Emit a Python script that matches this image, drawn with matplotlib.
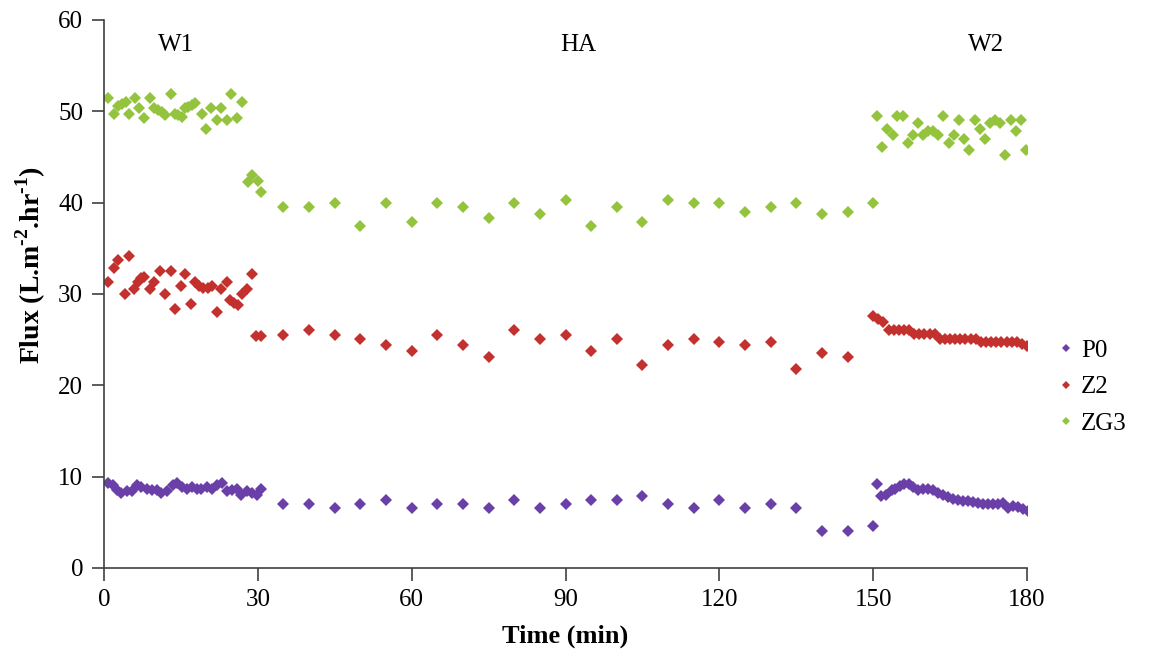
import matplotlib
matplotlib.use("Agg")
import matplotlib.pyplot as plt

plt.rcParams['font.family'] = ['Liberation Serif', 'DejaVu Serif']
plt.rcParams['mathtext.fontset'] = 'custom'
plt.rcParams['mathtext.rm'] = 'Liberation Serif'
plt.rcParams['mathtext.bf'] = 'Liberation Serif:bold'

# ---- data ----
ha_t = [35, 40, 45, 50, 55, 60, 65, 70, 75, 80, 85, 90, 95, 100, 105, 110,
        115, 120, 125, 130, 135, 140, 145, 150]

# P0
p0_w1_t = [0.85, 1.8, 2.5, 3.4, 4.4, 5.4, 6.4, 7.3, 8.3, 9.3, 10.3, 11.2, 12.2, 13.5,
           14.2, 15.2, 16.1, 17.1, 18.1, 19.0, 20.0, 21.0, 22.0, 23.0, 23.9, 24.9,
           25.9, 26.8, 27.8, 28.8, 29.8, 30.7]
p0_w1 = [9.3, 9.1, 8.5, 8.2, 8.4, 8.4, 9.1, 8.9, 8.7, 8.5, 8.5, 8.2, 8.4, 9.1,
         9.3, 8.9, 8.7, 8.9, 8.7, 8.7, 8.9, 8.7, 9.1, 9.3, 8.4, 8.5, 8.7, 8.0,
         8.4, 8.2, 8.0, 8.7]
p0_ha = [7.0, 7.0, 6.6, 7.0, 7.4, 6.6, 7.0, 7.0, 6.6, 7.4, 6.6, 7.0, 7.4, 7.4,
         7.9, 7.0, 6.6, 7.4, 6.6, 7.0, 6.6, 4.1, 4.1, 4.6]
p0_w2_t = [150.7, 151.6, 152.5, 153.6, 154.2, 155.2, 156.0, 157.0, 157.8, 158.8,
           159.8, 160.7, 161.7, 162.7, 163.7, 164.6, 165.6, 166.6, 167.6, 168.5,
           169.5, 170.5, 171.5, 172.4, 173.4, 174.4, 175.4, 176.3, 177.3, 178.3,
           179.3, 180.1]
p0_w2 = [9.2, 7.9, 8.0, 8.5, 8.7, 9.0, 9.2, 9.2, 8.9, 8.5, 8.6, 8.6, 8.5, 8.2,
         8.0, 7.8, 7.6, 7.4, 7.3, 7.3, 7.2, 7.1, 7.0, 7.0, 7.0, 7.0, 7.1, 6.6,
         6.8, 6.7, 6.5, 6.2]

# Z2
z2_w1_t = [0.85, 1.95, 2.8, 4.0, 4.9, 5.9, 6.7, 7.3, 7.85, 9.0, 9.8, 10.9, 11.8,
           13.0, 13.85, 15.0, 15.8, 17.0, 17.7, 18.5, 19.3, 20.2, 21.0, 22.0, 22.8,
           24.0, 24.6, 25.4, 26.1, 26.85, 27.8, 28.8, 29.7, 30.6]
z2_w1 = [31.3, 32.8, 33.7, 30.0, 34.2, 30.5, 31.3, 31.7, 31.9, 30.5, 31.3, 32.5,
         30.0, 32.5, 28.4, 30.9, 32.2, 28.9, 31.3, 30.9, 30.6, 30.6, 30.9, 28.0,
         30.5, 31.3, 29.3, 29.0, 28.8, 30.0, 30.5, 32.2, 25.4, 25.4]
z2_ha = [25.5, 26.0, 25.5, 25.1, 24.4, 23.8, 25.5, 24.4, 23.1, 26.0, 25.1, 25.5,
         23.8, 25.1, 22.2, 24.4, 25.1, 24.7, 24.4, 24.7, 21.8, 23.5, 23.1, 27.6]
z2_w2_t = [151, 152, 153, 154, 155, 156, 157, 158, 159, 160, 161, 162, 163, 164,
           165, 166, 167, 168, 169, 170, 171, 172, 173, 174, 175, 176, 177, 178,
           179, 180]
z2_w2 = [27.3, 26.9, 26.0, 26.0, 26.0, 26.0, 26.0, 25.6, 25.6, 25.6, 25.6, 25.6,
         25.1, 25.1, 25.1, 25.1, 25.1, 25.1, 25.1, 25.1, 24.7, 24.7, 24.7, 24.7,
         24.7, 24.7, 24.7, 24.7, 24.5, 24.3]

# ZG3
zg3_w1_t = [0.85, 1.95, 2.8, 3.45, 4.2, 4.95, 6.05, 6.9, 7.85, 8.95, 9.8, 10.6,
            11.25, 11.9, 13.0, 13.85, 14.5, 15.15, 15.8, 16.45, 17.1, 17.75, 19.05,
            19.9, 20.9, 22.0, 22.8, 24.0, 24.8, 25.9, 26.85, 28.0, 28.8, 30.0, 30.7]
zg3_w1 = [51.5, 49.7, 50.6, 50.8, 51.0, 49.7, 51.5, 50.3, 49.3, 51.5, 50.3, 50.1,
          49.9, 49.6, 51.9, 49.7, 49.6, 49.4, 50.3, 50.5, 50.7, 50.9, 49.7, 48.0,
          50.3, 49.0, 50.3, 49.0, 51.9, 49.3, 51.0, 42.2, 43.0, 42.4, 41.2]
zg3_ha = [39.5, 39.5, 39.9, 37.4, 39.9, 37.9, 39.9, 39.5, 38.3, 39.9, 38.7, 40.3,
          37.4, 39.5, 37.9, 40.3, 39.9, 39.9, 39.0, 39.5, 39.9, 38.7, 39.0, 39.9]
zg3_w2_t = [150.7, 151.8, 152.6, 153.9, 154.6, 155.9, 156.8, 157.8, 158.8, 159.8,
            160.7, 161.7, 162.7, 163.7, 164.8, 165.8, 166.8, 167.7, 168.7, 169.8,
            170.8, 171.8, 172.8, 173.7, 174.7, 175.7, 176.8, 177.8, 178.9, 179.8]
zg3_w2 = [49.5, 46.1, 48.1, 47.4, 49.5, 49.5, 46.5, 47.4, 48.7, 47.4, 47.8, 47.8,
          47.4, 49.5, 46.5, 47.4, 49.0, 47.0, 45.7, 49.0, 48.0, 47.0, 48.7, 49.0,
          48.7, 45.2, 49.0, 47.8, 49.0, 45.8]

phase_labels = ["W1", "HA", "W2"]
phase_x = [14, 92.5, 172]

series = [
    ("P0", p0_w1_t + ha_t + p0_w2_t, p0_w1 + p0_ha + p0_w2, "#6B3FA8"),
    ("Z2", z2_w1_t + ha_t + z2_w2_t, z2_w1 + z2_ha + z2_w2, "#C3312F"),
    ("ZG3", zg3_w1_t + ha_t + zg3_w2_t, zg3_w1 + zg3_ha + zg3_w2, "#94C43E"),
]

fig = plt.figure(figsize=(11.66, 6.62), dpi=100)
ax = fig.add_axes([0.0892, 0.142, 0.7916, 0.828])

for name, t, v, c in series:
    ax.plot(t, v, linestyle="none", marker="D", markersize=6, color=c,
            markeredgewidth=0, label=name)

ax.set_xlim(0, 180)
ax.set_ylim(0, 60)
ax.set_xticks([0, 30, 60, 90, 120, 150, 180])
ax.set_yticks([0, 10, 20, 30, 40, 50, 60])
ax.spines['top'].set_visible(False)
ax.spines['right'].set_visible(False)
for s in ['left', 'bottom']:
    ax.spines[s].set_color('#404040')
    ax.spines[s].set_linewidth(1.2)
ax.tick_params(direction='out', length=9, width=1.2, color='#404040',
               labelsize=18, pad=6)

hy = "\u2010"
ax.set_xlabel("Time (min)", fontsize=19, fontweight='bold', labelpad=10)
ax.set_ylabel("Flux (L.m$^{\\mathbf{" + hy + "2}}$.hr$^{\\mathbf{" + hy + "1}}$)",
              fontsize=20, fontweight='bold')
ax.yaxis.set_label_coords(-0.061, 0.553)

for lab, x in zip(phase_labels, phase_x):
    ax.text(x, 57.3, lab, fontsize=18, ha='center', va='center')

ax.legend(loc='center left', bbox_to_anchor=(1.01, 0.33), frameon=False,
          fontsize=18, handlelength=0.6, handletextpad=0.3, labelspacing=0.55,
          markerscale=0.7)

fig.savefig("out.png", dpi=100)
